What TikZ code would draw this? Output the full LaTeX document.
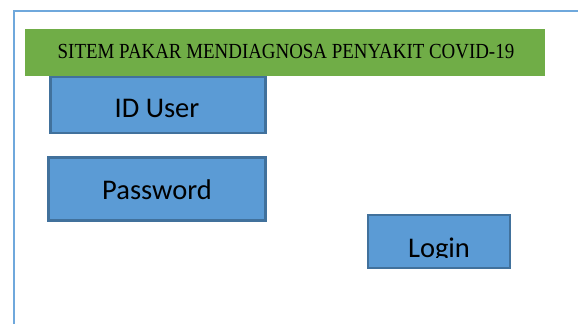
\documentclass[tikz,border=0pt]{standalone}
\usepackage{fontspec}
\usepackage{graphicx}
\setmainfont{Liberation Serif}
\newfontfamily\calibrifont{Carlito}

\definecolor{framecol}{HTML}{6FA8DC}
\definecolor{bannercol}{HTML}{70AD47}
\definecolor{boxfill}{HTML}{5B9BD5}
\definecolor{boxline}{HTML}{41719C}

\begin{document}
\begin{tikzpicture}[
x=1pt, y=-1pt,
inputbox/.style={draw=boxline, fill=boxfill, line width=2.2pt, inner sep=0pt},
boxlabel/.style={font=\calibrifont\fontsize{28.5}{30}\selectfont, anchor=base, inner sep=0pt},
]
\useasboundingbox (0,0) rectangle (578,324);

% ---- 外框 ----
\draw[framecol, line width=2pt] (14,324) -- (14,11) -- (578,11);

% ---- 标题栏 ----
\fill[bannercol] (25,29) rectangle (545,76);
\node[inner sep=0pt, anchor=base] (title) at (286,58)
    {\scalebox{0.88}[1]{\fontsize{21.5}{23}\selectfont SITEM PAKAR MENDIAGNOSA PENYAKIT COVID-19}};

% ---- ID User ----
\node[inputbox, minimum width=215pt, minimum height=56pt] (iduser) at (158,105) {};
\node[boxlabel] (iduserlabel) at (157,117) {ID User};

% ---- Password ----
\node[inputbox, minimum width=217pt, minimum height=63pt] (password) at (157,189) {};
\node[boxlabel] (passwordlabel) at (157,199) {Password};

% ---- Login ----
\node[inputbox, minimum width=142pt, minimum height=53pt] (login) at (439,241.5) {};
\begin{scope}
    \clip (368,215) rectangle (510,257);
    \node[boxlabel] (loginlabel) at (439,257) {Login};
\end{scope}
\end{tikzpicture}
\end{document}
